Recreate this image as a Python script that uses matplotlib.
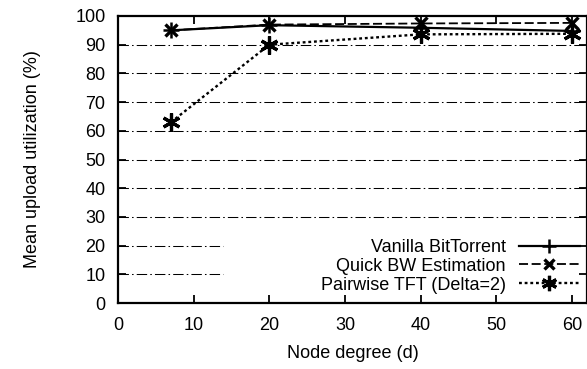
import matplotlib.pyplot as plt

plt.rcParams['font.family'] = ['Liberation Sans', 'DejaVu Sans']

degree = [7, 20, 40, 60]
vanilla = [95, 96.8, 95.9, 94.8]
quick_bw = [95, 97, 97.4, 97.6]
pairwise = [63, 90, 93.6, 93.8]
labels = ['Vanilla BitTorrent', 'Quick BW Estimation', 'Pairwise TFT (Delta=2)']
yticks = list(range(0, 101, 10))

fig = plt.figure(figsize=(5.87, 3.69), dpi=100)
ax = fig.add_axes([118 / 587, 1 - 303 / 369, 1 - 118 / 587, (303 - 16) / 369])

ax.set_xlim(0, 62)
ax.set_ylim(0, 100)

# dash-dot grid; the two lowest lines stop short of the key
grid_style = dict(color='black', lw=0.75, ls=(0, (10, 3, 1.5, 3)), zorder=0)
for y in yticks[1:-1]:
    x_end = 13.9 if y <= 20 else 62
    ax.hlines(y, 0, x_end, **grid_style)

ax.plot(degree, vanilla, color='black', lw=1.6, marker='+', ms=12, mew=1.8,
        label=labels[0])
ax.plot(degree, quick_bw, color='black', lw=1.3, ls=(0, (5, 2)), marker='x',
        ms=9, mew=2.4, label=labels[1])
ax.plot(degree, pairwise, color='black', lw=1.7, ls=(0, (1.2, 1.2)), marker=(6, 2, 0),
        ms=13, mew=2.3, label=labels[2])

ax.set_xticks(range(0, 61, 10))
ax.set_yticks(yticks)
ax.tick_params(direction='in', top=True, right=True, length=5.5, width=1.3,
               labelsize=13, colors='black')
ax.tick_params(axis='x', pad=10)
ax.tick_params(axis='y', pad=9)
for sp in ax.spines.values():
    sp.set_linewidth(1.6)

ax.set_xlabel('Node degree (d)', fontsize=13, labelpad=8)
ax.set_ylabel('Mean upload utilization (%)', fontsize=13, labelpad=25)

leg = ax.legend(loc='lower right', bbox_to_anchor=(0.985, 0.033), markerfirst=False,
                frameon=False, fontsize=13, handlelength=3.4, handletextpad=0.7,
                borderaxespad=0, labelspacing=0.1, borderpad=0)
for t in leg.get_texts():
    t.set_ha('right')
leg._legend_box.align = 'right'
for h in leg.legend_handles:
    h.set_markersize(h.get_markersize() * 0.85)

fig.savefig('out.png', dpi=100)
